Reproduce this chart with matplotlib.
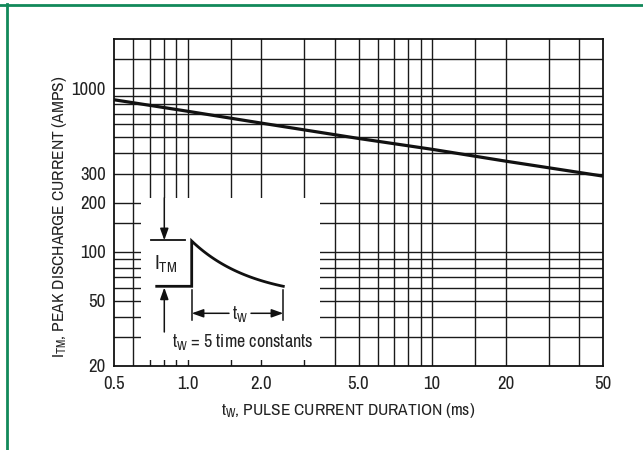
import numpy as np
import matplotlib
matplotlib.use("Agg")
import matplotlib.pyplot as plt
from matplotlib.lines import Line2D
from matplotlib.ticker import FixedLocator, NullLocator, NullFormatter

plt.rcParams['font.family'] = ['Archivo Narrow', 'DejaVu Sans']
plt.rcParams['mathtext.fontset'] = 'custom'
plt.rcParams['mathtext.rm'] = 'Archivo Narrow'
plt.rcParams['mathtext.it'] = 'Archivo Narrow'

# curve (log-log straight line)
duration_ms = [0.5, 1.0, 2.0, 5.0, 10, 20, 50]
peak_current = [850, 723, 612, 493, 423, 358, 290]

x_grid = [0.6, 0.7, 0.8, 0.9, 1.0, 1.5, 2, 3, 4, 5, 6, 7, 8, 9, 10, 15, 20, 30, 40]
y_grid = [30, 40, 50, 60, 70, 80, 90, 100, 150, 200, 300, 400, 500, 600,
          700, 800, 900, 1000, 1500]
x_ticks = [0.5, 1.0, 2.0, 5.0, 10, 20, 50]
x_ticklabels = ['0.5', '1.0', '2.0', '5.0', '10', '20', '50']
y_ticks = [20, 50, 100, 200, 300, 1000]
y_ticklabels = ['20', '50', '100', '200', '300', '1000']

W, H = 643, 450
fig = plt.figure(figsize=(W / 100, H / 100), dpi=100)

# axes box in pixels: x 114..603, y 39..366
ax = fig.add_axes([114 / W, 1 - 366 / H, 489 / W, 327 / H])
ax.set_xscale('log')
ax.set_yscale('log')
ax.set_xlim(0.5, 50)
ax.set_ylim(20, 2000)

for v in x_grid:
    ax.axvline(v, color='#1a1a1a', lw=1.0, zorder=1)
for v in y_grid:
    ax.axhline(v, color='#1a1a1a', lw=1.0, zorder=1)

ax.plot(duration_ms, peak_current, color='#111111', lw=2.3, zorder=4,
        solid_capstyle='butt')

ax.xaxis.set_major_locator(FixedLocator(x_ticks))
ax.xaxis.set_minor_locator(NullLocator())
ax.xaxis.set_minor_formatter(NullFormatter())
ax.set_xticklabels(x_ticklabels)
ax.yaxis.set_major_locator(FixedLocator(y_ticks))
ax.yaxis.set_minor_locator(NullLocator())
ax.yaxis.set_minor_formatter(NullFormatter())
ax.set_yticklabels(y_ticklabels)
ax.tick_params(axis='both', length=0, labelsize=13.5, colors='#222222')
ax.tick_params(axis='x', pad=7)
ax.tick_params(axis='y', pad=6)
for sp in ax.spines.values():
    sp.set_linewidth(1.3)
    sp.set_color('#111111')
    sp.set_zorder(6)

ax.set_xlabel(r't$_{\mathrm{W}}$, PULSE CURRENT DURATION (ms)', fontsize=12.5,
              va='center', color='#222222')
ax.xaxis.set_label_coords((348 - 114) / 489, -45 / 327)
ax.set_ylabel(r'I$_{\mathrm{TM}}$, PEAK DISCHARGE CURRENT (AMPS)', fontsize=12.5,
              va='center', ha='center', color='#222222')
ax.yaxis.set_label_coords(-54 / 489, (366 - 217) / 327)

# white inset with the pulse sketch, pixel coordinates
x0, x1, y0, y1 = 141, 320, 198, 360
ins = fig.add_axes([x0 / W, 1 - y1 / H, (x1 - x0) / W, (y1 - y0) / H], zorder=3)
ins.set_xlim(x0, x1)
ins.set_ylim(y1, y0)
ins.set_axis_off()
ins.add_patch(plt.Rectangle((x0, y0), x1 - x0, y1 - y0, color='white', zorder=0))

k = '#111111'
ins.plot([150.7, 185], [240.3, 240.3], color=k, lw=1.3)
t = np.linspace(0, 1, 60)
h = (np.exp(-1.5 * t) - np.exp(-1.5)) / (1 - np.exp(-1.5))
ins.plot(np.concatenate([[156.7, 191.7, 191.7], 191.7 + t * (283.3 - 191.7)]),
         np.concatenate([[286.3, 286.3, 241], 286.3 - 45.3 * h]),
         color=k, lw=2.0, solid_joinstyle='miter')
arw = dict(arrowstyle='-|>,head_length=0.7,head_width=0.25', color=k, lw=1.1,
           shrinkA=0, shrinkB=0)
ins.annotate('', xy=(164.3, 240.3), xytext=(164.3, 198), arrowprops=arw)
ins.annotate('', xy=(164.3, 287.5), xytext=(164.3, 332), arrowprops=arw)
ins.plot([191.7, 191.7], [290, 320], color=k, lw=1.1)
ins.plot([283.3, 283.3], [290, 320], color=k, lw=1.1)
ins.annotate('', xy=(191.7, 313.3), xytext=(229, 313.3), arrowprops=arw)
ins.annotate('', xy=(283.3, 313.3), xytext=(251, 313.3), arrowprops=arw)
ins.text(240, 314, r't$_{\mathrm{W}}$', fontsize=13, ha='center', va='center',
         color='#222222')
ins.text(166, 264, r'I$_{\mathrm{TM}}$', fontsize=15, ha='center', va='center',
         color='#222222')
ins.text(243, 342, r't$_{\mathrm{W}}$ = 5 time constants', fontsize=13,
         ha='center', va='center', color='#222222')

# green frame (top and left)
green = '#12895a'
fig.add_artist(Line2D([0, 1], [1 - 4.7 / H] * 2, color=green, lw=2.0,
                      transform=fig.transFigure))
fig.add_artist(Line2D([6.8 / W] * 2, [0, 1 - 3.7 / H], color=green, lw=2.0,
                      transform=fig.transFigure))

fig.savefig('out.png', dpi=100)
